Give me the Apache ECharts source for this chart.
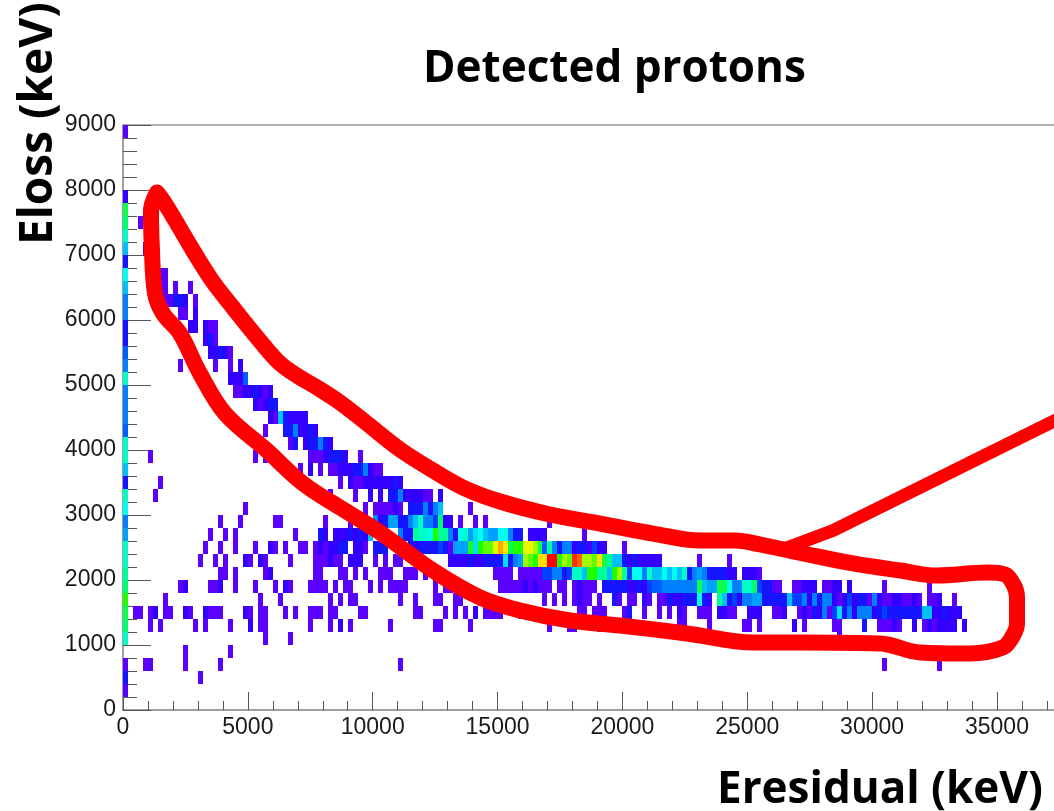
<!DOCTYPE html>
<html><head><meta charset="utf-8">
<style>html,body{margin:0;padding:0;background:#fff}#c{width:1054px;height:811px}</style>
<script src="https://cdn.jsdelivr.net/npm/echarts@6/dist/echarts.min.js"></script>
</head><body><div id="c"></div>
<script>
const binKeV = 200;
const chartTitle = 'Detected protons';
const xTitle = 'Eresidual (keV)';
const yTitle = 'Eloss (keV)';
// first column (Eresidual bin 0), one count per Eloss bin, bottom to top
const firstColumn = [0,1,3,1,0,7.5,8.5,9,10,8.5,8,7.5,7.5,5.5,5,7,7.5,3,6,7.5,7.5,4.5,5,5,5,7.5,5,4.5,3,3,5,5,6,7,3,6,7.5,8.5,9,2,0,0,0,0,1];
// each row: runs of [first Eresidual bin, counts...]
const row02 = [[15,1]];
const row03 = [[4,1,1],[12,1],[19,1],[55,1],[152,1],[163,1]];
const row04 = [[12,1],[21,1]];
const row05 = [[28,1],[33,1],[143,1]];
const row06 = [[5,1],[7,1],[14,1],[16,1],[21,1],[25,2],[27,1,1],[37,1],[41,1],[43,2],[45,1],[53,1],[62,1,1],[69,1],[85,1],[89,1,1],[95,1],[111,1,1],[117,1],[124,1,1],[127,1],[134,2],[136,1],[142,1,1],[148,3],[151,1,1,1,2,1],[158,2],[160,1,2,1,2,2,2,2],[168,2]];
const row07 = [[2,1,1],[5,1,2],[8,1,1],[12,2,1],[16,2,1,1,1],[24,2,1],[27,1,1],[32,1],[34,1],[37,1,1,1],[41,1,1],[47,1,1],[58,1,1],[64,1],[66,1],[68,1],[70,2],[72,1,1,1,1],[79,1],[81,1],[91,1,1],[94,1,1,1],[100,1,3],[104,1],[107,1],[109,1],[111,2,1],[115,1,1,1],[119,2,2,1,1],[125,2,2,2],[130,1,1,2],[135,1,2,1,3,2,5,1,4,6.5,3,5,2,5,5,5,2,3,4,3,3,3,3,3,3,3,6,6,2,2,3,2,2,2]];
const row08 = [[8,1],[27,1],[31,1],[41,1],[43,1],[45,1,1],[55,1],[58,1],[62,1,1],[66,1,1],[71,1],[84,1],[86,1],[88,1],[90,1,2,1,1],[95,1],[98,3,1],[101,1,1],[104,2,1],[107,1,1,3,2,2,3,3,3,7,3,2],[119,8,6,3,4,2,5,5,5.5,5.5,3,3,3,3,3,6,4,4,5,2,5,3,5,5,2,1,2,4,2,3,3,1,5,2,1,1,2,2,1,1,2,1],[161,1,1,2],[166,1]];
const row09 = [[11,1,2],[17,1,1,2],[22,1],[26,1],[30,1],[32,2,1],[37,1,1,1,1],[42,1],[44,1,1],[49,1],[51,1],[53,1,1,1,1],[62,1],[64,1,1],[75,1,1,1,1,1,2,1,2,1,1,1],[87,1,1],[90,1,2,1,1],[94,1],[96,3,3,3,3,3,2,2,3,2,4,4.5,4.5,5,5,5,5,5,5,5,9,6,5.5,5.5,9,9,7,5,5,7.5,7.5,8.5,4,3,3,1,1],[134,1,1,2,2,2],[140,1,1,2,2],[145,2],[152,1],[161,1]];
const row10 = [[19,1,1],[22,1],[28,1,2],[38,1,1],[43,1,1],[46,1],[48,1],[51,1,1,1],[56,1,1,1],[60,1],[74,1,1,1,1],[79,1,1,1,1,1,4,4,5,5,3,4,7.5,7.5,6,10,10,8,8,6,10,11,8,4,7,7,5,7.5,6,6,7,6,7,6,7.5,3,5,5.5,5,3,3,3,3,2,2],[124,2,2,2,1]];
const row11 = [[15,1],[18,1],[20,1],[24,2,1],[27,2,1],[33,1],[38,1,1,1,2,1,1],[45,2,2,2],[50,1],[52,1],[54,1,1],[65,2,2,2,2,3,2,2,3,3,3,3,6.5,3,5,5.5,11,10.5,10,13,13,16,16,10,11,10.5,15.5,15,11,11,10.5,13,9,8,6,6,3,2,3,2,2,2,2,2],[115,1],[121,1]];
const row12 = [[16,1],[19,1],[22,1],[26,1],[29,2,1],[32,1],[35,1,1],[38,1,2,1,2,2,3,3],[46,2,2,1],[50,3,3,3],[57,3,2,3,3,3,3,4,3,1,5.5,5.5,5.5,9.5,6.5,10,10.5,10.5,12,14,12.5,9,10,10,12,12,11,9,4.5,8,5,3,5,5,2,3,3,1.5,4,2,2],[100,1]];
const row13 = [[17,1],[20,1],[22,1],[34,1],[39,3,2],[42,2,2,2,3,2,3,2,6],[55,5,3,3,8,7.5,7.5,7,10,8,8,5,3,7,7.5,5.5,6.5,7,6,5.5,5.5,7,7,5,3,3],[81,2,2,2,2],[92,1]];
const row14 = [[19,1],[23,1],[30,1,1],[40,1],[45,1],[50,5,2,3,5.5,5.5,3,3,5,6,7.5,5,5,4,8.5,2,2],[67,1],[70,1],[72,1],[85,1]];
const row15 = [[24,1],[48,1],[50,1,1,1,1,2,1],[57,3,3,3,5,3,5,6],[69,1]];
const row16 = [[6,1],[41,1],[46,1],[49,2],[51,2],[53,3,3,5,2,2,2,2,1,1],[63,2]];
const row17 = [[7,1],[43,1],[45,2,1,1,2,2,2,2,2,2,3,2]];
const row18 = [[35,1],[37,2],[39,1],[41,1,1,2,2,2,3,3,5,2,1,1]];
const row19 = [[5,1],[26,1],[28,1],[37,1,1,1,2,3,3,3,2],[47,1]];
const row20 = [[33,1,3],[36,2,3,3,5,3,2]];
const row21 = [[28,1],[32,3,3,5,2,2,3,2]];
const row22 = [[29,2,1,6,3,2,2,2,2]];
const row23 = [[26,2,1,2,3,3]];
const row24 = [[22,1,1,2,2,3,2,1,2]];
const row25 = [[21,2,2,2,4.5]];
const row26 = [[11,1],[18,1],[21,1],[23,2]];
const row27 = [[17,2,2,3,2,1]];
const row28 = [[16,2,3,1]];
const row29 = [[13,2,2],[16,2,1,1]];
const row30 = [[11,1,1],[14,2]];
const row31 = [[8,1,1,3,3,2],[14,1]];
const row32 = [[7,1,1],[10,1],[13,1]];
const row33 = [[7,1,1]];
const row35 = [[4,1]];
const row37 = [[3,1]];
// hand-drawn outline, in axis units
const loopEresidual = [1362,1682,2283,2803,3564,4405,5407,6288,7089,7770,8691,9772,11094,12416,13697,15099,17101,19104,21227,23109,24510,25512,27234,29237,31119,32600,34603,35324,35684,35804,35804,35644,35244,33922,31920,30318,27114,25232,22588,19905,17902,15900,14298,12416,10173,8691,7209,5767,4085,3084,2283,1602,1282,1149,1121,1362];
const loopEloss = [7962,7792,7408,7070,6608,6192,5715,5331,5115,4962,4731,4408,4008,3685,3408,3208,3008,2869,2715,2608,2608,2546,2408,2254,2146,2069,2115,2085,1915,1731,1331,1146,962,869,885,1023,1038,1038,1177,1300,1377,1531,1731,2146,2762,3115,3485,3992,4562,5177,5792,6100,6408,7177,7685,7962];
const armEresidual = [26513,28436,38128];
const armEloss = [2485,2762,4608];

const rowsByBin = {2:row02,3:row03,4:row04,5:row05,6:row06,7:row07,8:row08,9:row09,10:row10,11:row11,12:row12,13:row13,14:row14,15:row15,16:row16,17:row17,18:row18,19:row19,20:row20,21:row21,22:row22,23:row23,24:row24,25:row25,26:row26,27:row27,28:row28,29:row29,30:row30,31:row31,32:row32,33:row33,35:row35,37:row37};
const cells = [];
firstColumn.forEach((v, j) => { if (v > 0) cells.push([0, j * binKeV, v]); });
Object.keys(rowsByBin).forEach(j => {
  rowsByBin[j].forEach(run => {
    for (let k = 1; k < run.length; k++) cells.push([(run[0] + k - 1) * binKeV, j * binKeV, run[k]]);
  });
});
const zip = (a, b) => a.map((x, i) => [x, b[i]]);

const chart = echarts.init(document.getElementById('c'), null, {renderer: 'canvas'});
const tickFont = {fontFamily: 'Liberation Sans', fontSize: 23, color: '#1a1a1a'};
const titleFont = 'bold 44px "Open Sans"';
chart.setOption({
  animation: false,
  backgroundColor: '#fff',
  grid: {left: 123, top: 125, width: 998.8, height: 585, containLabel: false, outerBoundsMode: 'none'},
  xAxis: [{
    type: 'value', min: 0, max: 40000, interval: 5000,
    axisLine: {show: true, onZero: false, lineStyle: {color: '#808080', width: 1.5}},
    axisTick: {show: true, inside: true, length: 18, lineStyle: {color: '#555', width: 1}},
    minorTick: {show: true, splitNumber: 5, length: 9, lineStyle: {color: '#555', width: 1}},
    splitLine: {show: false},
    axisLabel: Object.assign({margin: 6, showMaxLabel: false, formatter: v => String(v)}, tickFont)
  }, {
    type: 'value', position: 'top', min: 0, max: 40000,
    axisLine: {show: true, onZero: false, lineStyle: {color: '#999', width: 1.5}},
    axisTick: {show: false}, axisLabel: {show: false}, splitLine: {show: false}
  }],
  yAxis: {
    type: 'value', min: 0, max: 9000, interval: 1000,
    axisLine: {show: true, onZero: false, lineStyle: {color: '#808080', width: 1.5}},
    axisTick: {show: true, inside: true, length: 28, lineStyle: {color: '#555', width: 1}},
    minorTick: {show: true, splitNumber: 5, length: 14, lineStyle: {color: '#555', width: 1}},
    splitLine: {show: false},
    axisLabel: Object.assign({margin: 7, padding: [5, 0, 0, 0], formatter: v => String(v)}, tickFont)
  },
  visualMap: {
    show: false, type: 'continuous', seriesIndex: 0, dimension: 2, min: 1, max: 16,
    inRange: {color: ['#5a00ff','#2000ff','#0040ff','#00a0ff','#00fff0','#00ff70','#20ff00','#e0ff00','#ffe000','#ff9000','#ff0000']}
  },
  series: [{
    type: 'custom',
    coordinateSystem: 'cartesian2d',
    data: cells,
    encode: {x: 0, y: 1},
    renderItem: (params, api) => {
      const a = api.coord([api.value(0), api.value(1)]).map(Math.round);
      const b = api.coord([api.value(0) + binKeV, api.value(1) + binKeV]).map(Math.round);
      return {type: 'rect', shape: {x: a[0], y: b[1], width: b[0] - a[0], height: a[1] - b[1]}, style: {fill: api.visual('color')}};
    },
    z: 2
  }, {
    type: 'line', data: zip(loopEresidual, loopEloss), showSymbol: false, smooth: 0.35, silent: true,
    lineStyle: {color: '#ff0000', width: 16, cap: 'round', join: 'round'}, z: 5
  }, {
    type: 'line', data: zip(armEresidual, armEloss), showSymbol: false, silent: true,
    lineStyle: {color: '#ff0000', width: 13, cap: 'round'}, z: 5
  }],
  graphic: [
    {type: 'text', left: 423, top: 47, style: {text: chartTitle, font: titleFont, fill: '#000'}, z: 10},
    {type: 'text', x: 16, y: 245, rotation: Math.PI / 2, style: {text: yTitle, font: 'bold 46px "Open Sans"', fill: '#000'}, z: 10},
    {type: 'text', left: 717, top: 768, style: {text: xTitle, font: titleFont, fill: '#000'}, z: 10}
  ]
});
</script></body></html>
